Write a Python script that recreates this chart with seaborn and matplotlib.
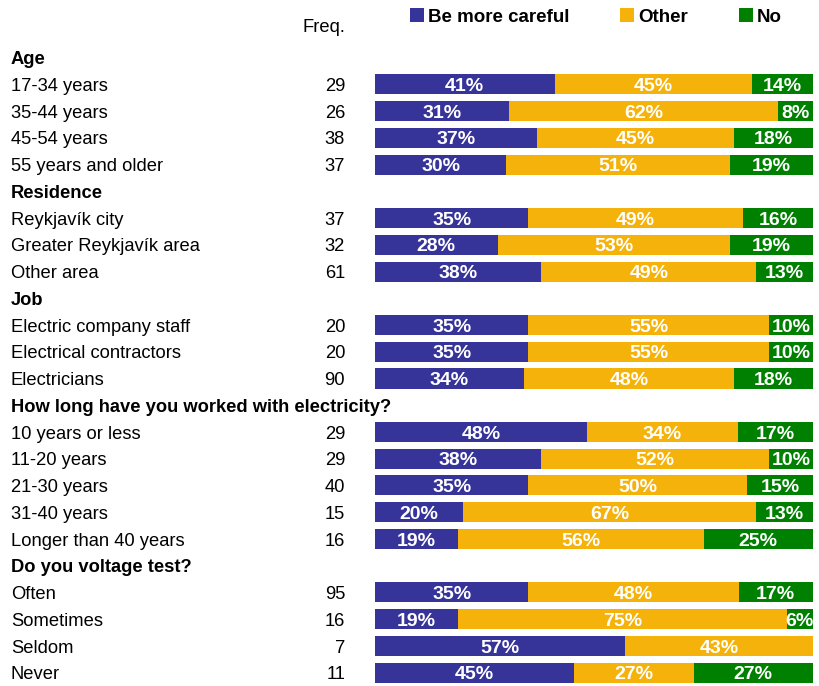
import pandas as pd
import matplotlib.pyplot as plt
import matplotlib.transforms as mtransforms
from matplotlib.patches import Patch
import seaborn as sns

groups = ['Age', 'Residence', 'Job', 'How long have you worked with electricity?', 'Do you voltage test?']
group_items = [
    ['17-34 years', '35-44 years', '45-54 years', '55 years and older'],
    ['Reykjavík city', 'Greater Reykjavík area', 'Other area'],
    ['Electric company staff', 'Electrical contractors', 'Electricians'],
    ['10 years or less', '11-20 years', '21-30 years', '31-40 years', 'Longer than 40 years'],
    ['Often', 'Sometimes', 'Seldom', 'Never'],
]
freq = [29, 26, 38, 37, 37, 32, 61, 20, 20, 90, 29, 29, 40, 15, 16, 95, 16, 7, 11]
careful = [41, 31, 37, 30, 35, 28, 38, 35, 35, 34, 48, 38, 35, 20, 19, 35, 19, 57, 45]
other = [45, 62, 45, 51, 49, 53, 49, 55, 55, 48, 34, 52, 50, 67, 56, 48, 75, 43, 27]
no = [14, 8, 18, 19, 16, 19, 13, 10, 10, 18, 17, 10, 15, 13, 25, 17, 6, 0, 27]
series = ['Be more careful', 'Other', 'No']
colors = ['#363399', '#F5B20A', '#008000']

# build table of rows (headers have no bars)
rows = []
i = 0
for g, items in zip(groups, group_items):
    rows.append({'row': g, 'header': True})
    for it in items:
        rows.append({'row': it, 'header': False, 'freq': freq[i],
                     'careful': careful[i], 'other': other[i], 'no': no[i]})
        i += 1
df = pd.DataFrame(rows)
tot = df['careful'] + df['other'] + df['no']
df['c1'] = df['careful'] / tot * 100
df['c2'] = (df['careful'] + df['other']) / tot * 100
df['c3'] = tot / tot * 100
order = list(df['row'])
bars = df[~df['header']]

sns.set_theme(style='white')
plt.rcParams['font.family'] = ['Liberation Sans', 'DejaVu Sans']
plt.rcParams['text.color'] = 'black'

fig = plt.figure(figsize=(8.19, 6.86), dpi=100)
n = len(order)
row_px = 26.74
ax = fig.add_axes([375 / 819, 0, 438 / 819, n * row_px / 686])

for col, c in zip(['c3', 'c2', 'c1'], colors[::-1]):
    sns.barplot(data=bars, x=col, y='row', order=order, orient='h', color=c,
                saturation=1, width=0.75, errorbar=None, linewidth=0, ax=ax)

ax.set_xlim(0, 100)
ax.set_ylim(n - 0.5, -0.5)
ax.set_axis_off()

# percentage labels
for _, r in bars.iterrows():
    y = order.index(r['row'])
    starts = [0, r['c1'], r['c2']]
    ends = [r['c1'], r['c2'], r['c3']]
    for v, s, e in zip([r['careful'], r['other'], r['no']], starts, ends):
        if v > 0:
            ax.text((s + e) / 2, y + 0.08, f'{int(v)}%', ha='center', va='center',
                    color='white', fontsize=14, fontweight='bold')

# row labels and frequencies
tr = mtransforms.blended_transform_factory(fig.transFigure, ax.transData)
for _, r in df.iterrows():
    y = order.index(r['row']) + 0.08
    if r['header']:
        ax.text(11 / 819, y, r['row'], transform=tr, ha='left', va='center',
                fontsize=13.2, fontweight='bold', color='black')
    else:
        ax.text(11 / 819, y, r['row'], transform=tr, ha='left', va='center',
                fontsize=13.2, color='black')
        ax.text(345 / 819, y, str(int(r['freq'])), transform=tr, ha='right',
                va='center', fontsize=13.2, color='black')

fig.text(345 / 819, 1 - 28 / 686, 'Freq.', ha='right', va='center', fontsize=13.2,
         color='black')

handles = [Patch(facecolor=c, edgecolor='none') for c in colors]
leg = fig.legend(handles, series, loc='center left', bbox_to_anchor=(401 / 819, 1 - 17 / 686),
                 ncol=3, frameon=False, borderpad=0, handlelength=0.75, handleheight=0.75,
                 handletextpad=0.2, columnspacing=2.7,
                 prop={'size': 13.5, 'weight': 'bold'})
for t in leg.get_texts():
    t.set_color('black')

fig.savefig('out.png', dpi=100)
